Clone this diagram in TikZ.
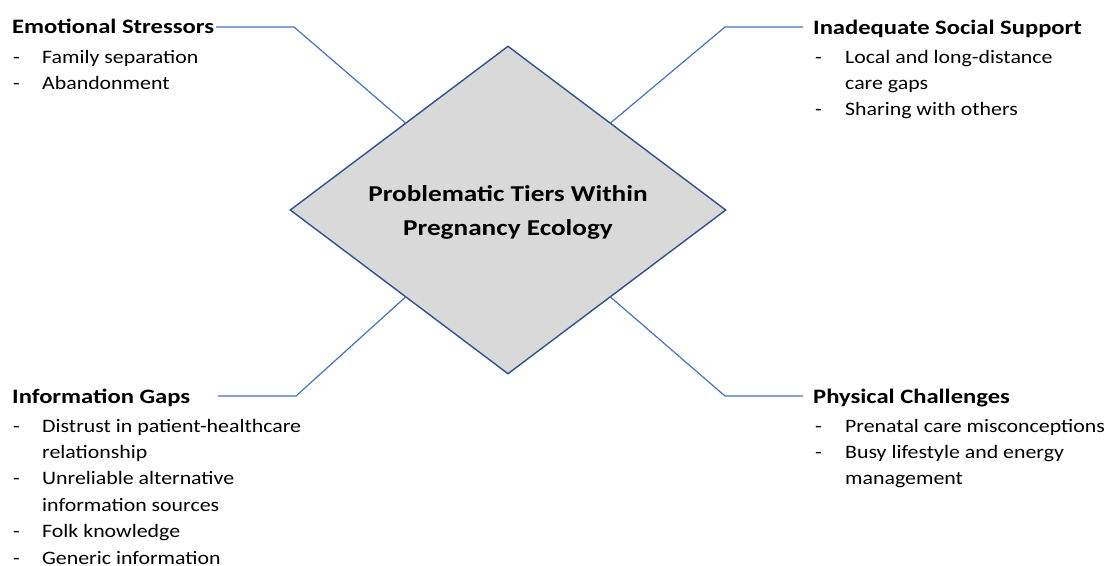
\documentclass[tikz,border=0pt]{standalone}
\usepackage{fontspec}
\setmainfont{Carlito}[FakeStretch=1.15]
\newfontfamily\headfont{Carlito}[FakeStretch=1.2]
\usetikzlibrary{shapes.geometric,calc}
\definecolor{connblue}{RGB}{68,114,196}
\definecolor{dborder}{RGB}{47,82,143}
\definecolor{dfill}{RGB}{217,217,217}
\begin{document}
\begin{tikzpicture}[x=1pt,y=-1pt,
  titletext/.style={anchor=base west, inner sep=0pt, font=\headfont\fontsize{20.5}{24}\selectfont\bfseries},
  itemlist/.style={anchor=base west, inner sep=0pt, font=\fontsize{19}{26.4}\selectfont},
  conn/.style={draw=connblue, line width=1.2pt},
  centerdiamond/.style={diamond, draw=dborder, fill=dfill, line width=1.4pt, inner sep=0pt,
    aspect=1.33, minimum width=436pt, minimum height=328pt},
  centertext/.style={align=center, inner sep=0pt,
    font=\headfont\fontsize{22.7}{34}\selectfont\bfseries}
]
\useasboundingbox (0,0) rectangle (1107,565);

% centre
\node[centerdiamond] (d) at (508,210) {};
\node[centertext] (dt) at ($(d.center)+(0,2)$) {Problematic Tiers Within\\Pregnancy Ecology};

% top left
\node[titletext] (es) at (12,33.5) {Emotional Stressors};
\node[itemlist] (esl) at (13,63) {\begin{tabular}[t]{@{}p{29pt}@{}l@{}}
-&Family separation\\
-&Abandonment
\end{tabular}};

% top right
\node[titletext] (iss) at (813,34) {Inadequate Social Support};
\node[itemlist] (issl) at (815,63) {\begin{tabular}[t]{@{}p{30pt}@{}l@{}}
-&Local and long-distance\\
&care gaps\\
-&Sharing with others
\end{tabular}};

% bottom left
\node[titletext] (ig) at (12,403) {Information Gaps};
\node[itemlist] (igl) at (13,432) {\begin{tabular}[t]{@{}p{29pt}@{}l@{}}
-&Distrust in patient-healthcare\\
&relationship\\
-&Unreliable alternative\\
&information sources\\
-&Folk knowledge\\
-&Generic information
\end{tabular}};

% bottom right
\node[titletext] (pc) at (813,403) {Physical Challenges};
\node[itemlist] (pcl) at (815,432) {\begin{tabular}[t]{@{}p{30pt}@{}l@{}}
-&Prenatal care misconceptions\\
-&Busy lifestyle and energy\\
&management
\end{tabular}};

% bends and free ends
\coordinate (b1) at (294,27);
\coordinate (e1) at (216,27);
\coordinate (b2) at (725,27);
\coordinate (e2) at (803,27);
\coordinate (b3) at (296,396);
\coordinate (e3) at (218,396);
\coordinate (b4) at (725,396);
\coordinate (e4) at (803,396);

\draw[conn] ($(d.west)!0.53!(d.north)$) -- (b1) -- (e1);
\draw[conn] ($(d.east)!0.53!(d.north)$) -- (b2) -- (e2);
\draw[conn] ($(d.west)!0.53!(d.south)$) -- (b3) -- (e3);
\draw[conn] ($(d.east)!0.53!(d.south)$) -- (b4) -- (e4);
\end{tikzpicture}
\end{document}
